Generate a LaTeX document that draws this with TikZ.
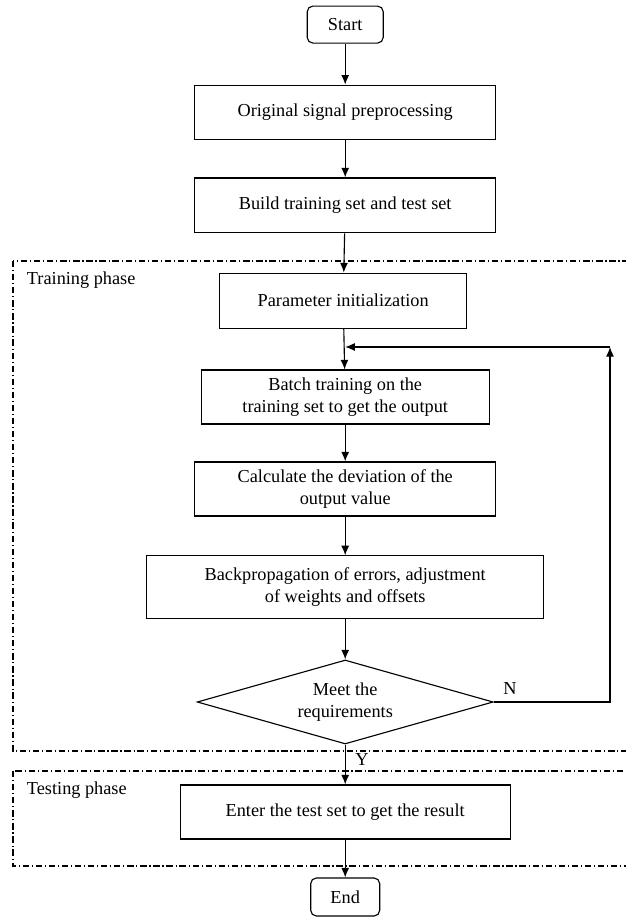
\documentclass[tikz,border=0pt]{standalone}
\usepackage{fontspec}
\setmainfont{Liberation Serif}
\usetikzlibrary{shapes,arrows.meta}

\begin{document}
\begin{tikzpicture}[
    font=\fontsize{13}{15.6}\selectfont,
    stepbox/.style={draw, line width=0.8pt, align=center, inner sep=2pt},
    phasebox/.style={draw, line width=0.8pt, dash pattern=on 4.5pt off 2pt on 0.8pt off 2pt},
    flow/.style={-{Latex[length=2.4mm,width=2mm]}, line width=0.8pt}]
    \useasboundingbox (0,0) rectangle (15.65,22.925);
    % phases
    \draw[phasebox] (0.325,16.4) rectangle (16.2,4.15);
    \draw[phasebox] (0.325,3.65) rectangle (16.2,1.275);
    \node[anchor=west] at (0.55,15.93) (train) {Training phase};
    \node[anchor=west] at (0.55,3.18) (test) {Testing phase};
    % steps
    \node[stepbox, rounded corners=4pt, minimum width=1.9cm, minimum height=0.925cm] at (8.63,22.31) (start) {Start};
    \node[stepbox, minimum width=7.525cm, minimum height=1.35cm] at (8.63,20.12) (signal) {Original signal preprocessing};
    \draw[flow] (start) to (signal);
    \node[stepbox, minimum width=7.525cm, minimum height=1.37cm] at (8.63,17.79) (sets) {Build training set and test set};
    \draw[flow] (signal) to (sets);
    \node[stepbox, minimum width=6.175cm, minimum height=1.375cm] at (8.58,15.41) (init) {Parameter initialization};
    \draw[flow] (sets) to (init);
    \node[stepbox, minimum width=7.2cm, minimum height=1.35cm] at (8.63,13.0) (batch) {Batch training on the\\ training set to get the output};
    \draw[flow] (init) to (batch);
    \node[stepbox, minimum width=7.525cm, minimum height=1.35cm] at (8.63,10.7) (dev) {Calculate the deviation of the\\ output value};
    \draw[flow] (batch) to (dev);
    \node[stepbox, minimum width=9.925cm, minimum height=1.575cm] at (8.63,8.24) (backprop) {Backpropagation of errors, adjustment\\ of weights and offsets};
    \draw[flow] (dev) to (backprop);
    \node[stepbox, diamond, aspect=3.5, inner sep=1pt, minimum width=7.4cm, minimum height=2.1cm] at (8.63,5.375) (meet) {Meet the\\ requirements};
    \draw[flow] (backprop) to (meet);
    % loop back
    \coordinate (turn) at (15.25,14.25);
    \coordinate (merge) at (8.63,14.25);
    \draw[flow] (meet.east) -| (turn);
    \draw[flow] (turn) -- (merge);
    \node at (12.75,5.72) (no) {N};
    \node[stepbox, minimum width=8.25cm, minimum height=1.35cm] at (8.63,2.625) (enter) {Enter the test set to get the result};
    \draw[flow] (meet) to (enter);
    \node at (9.05,3.93) (yes) {Y};
    \node[stepbox, rounded corners=4pt, minimum width=1.725cm, minimum height=0.95cm] at (8.63,0.5) (end) {End};
    \draw[flow] (enter) to (end);
\end{tikzpicture}
\end{document}
